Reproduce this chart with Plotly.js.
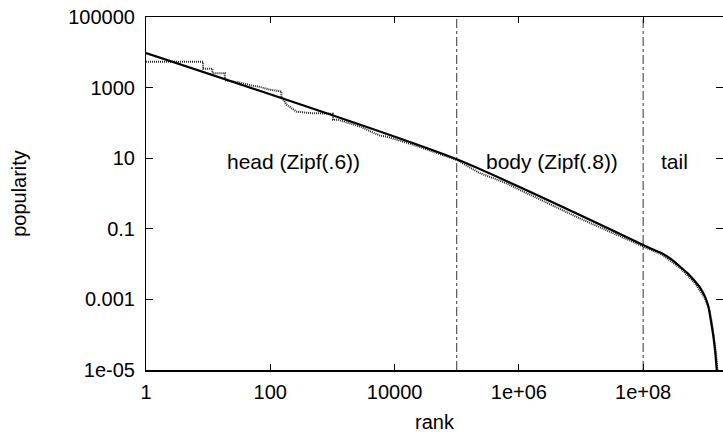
<!DOCTYPE html>
<html>
<head>
<meta charset="utf-8">
<script src="https://cdn.plot.ly/plotly-3.0.1.min.js"></script>
<style>html,body{margin:0;padding:0;background:#fff;}#chart{width:723px;height:437px;}</style>
</head>
<body>
<div id="chart"></div>
<script>
// Model fit (solid): Zipf(.6) head, Zipf(.8) body, tail cutoff
var modelRank = [1, 1e5, 1e8, 1.41e8, 2.0e8, 2.82e8, 3.98e8, 5.25e8, 6.76e8, 8.32e8, 9.77e8, 1.12e9, 1.23e9, 1.35e9, 1.445e9, 1.53e9];
var modelPop  = [9500, 9.3, 0.035, 0.0263, 0.0204, 0.0138, 0.0083, 0.00537, 0.00331, 0.00209, 0.00126, 0.00063, 0.00025, 0.000089, 0.000032, 0.00001];

// Measured popularity (dotted)
var dataRank = [1, 8.3, 8.3, 11.7, 11.7, 18.6, 18.6, 31.6, 50, 68, 98, 151, 151, 165, 182, 263, 427, 1023, 1023, 1230, 2750, 5750, 7400, 20000, 69000, 100000, 234000, 631000, 1e6, 1e7, 1e8, 2e8, 3.98e8, 6.76e8, 9.77e8, 1.15e9, 1.26e9, 1.38e9, 1.48e9, 1.57e9];
var dataPop  = [5400, 5400, 3400, 3400, 2570, 2570, 1600, 1400, 1150, 1050, 870, 780, 520, 440, 330, 209, 190, 182, 123, 123, 79, 44, 41, 24, 11.2, 8.9, 3.8, 1.95, 1.3, 0.19, 0.0316, 0.0186, 0.0076, 0.00295, 0.0011, 0.00056, 0.00025, 0.000089, 0.000032, 0.00001];

// Region boundaries and labels
var boundaryRanks = [1e5, 1e8];
var yLimits = [1e-5, 1e5];
var regionLabels = ["head (Zipf(.6))", "body (Zipf(.8))", "tail"];
var regionLabelX = [236, 3.4e6, 3.2e8];
var regionLabelY = 8;

var xTickVals = [1, 100, 10000, 1e6, 1e8];
var xTickText = ["1", "100", "10000", "1e+06", "1e+08"];
var yTickVals = [1e-5, 1e-3, 0.1, 10, 1000, 100000];
var yTickText = ["1e-05", "0.001", "0.1", "10", "1000", "100000"];

var font = "Liberation Sans, Arial, sans-serif";
var traces = [];
boundaryRanks.forEach(function (b) {
  traces.push({x: [b, b], y: yLimits, mode: "lines", showlegend: false, hoverinfo: "skip",
    line: {color: "#333", width: 1, dash: "dashdot"}});
});
traces.push({x: dataRank, y: dataPop, mode: "lines", showlegend: false,
  line: {color: "#222", width: 2, dash: "1px,1px"}});
traces.push({x: modelRank, y: modelPop, mode: "lines", showlegend: false,
  line: {color: "#000", width: 2.2, shape: "spline", smoothing: 0.6}});

var annotations = regionLabels.map(function (t, i) {
  return {x: Math.log10(regionLabelX[i]), y: Math.log10(regionLabelY), text: t, showarrow: false,
    xref: "x", yref: "y", xanchor: "center", yanchor: "middle",
    font: {family: font, size: 21, color: "#000"}};
});

var layout = {
  width: 723, height: 437,
  margin: {l: 146, r: 0, t: 17, b: 67},
  paper_bgcolor: "#fff", plot_bgcolor: "#fff",
  font: {family: font, size: 20, color: "#000"},
  xaxis: {type: "log", range: [0, 9.285], tickvals: xTickVals, ticktext: xTickText,
    ticks: "inside", ticklen: 6, tickwidth: 1, tickcolor: "#000", showgrid: false, zeroline: false,
    showline: true, linecolor: "#000", linewidth: 1.5, mirror: "ticks",
    tickfont: {family: font, size: 20}, ticklabelstandoff: 3,
    title: {text: "rank", font: {family: font, size: 20}, standoff: 13}},
  yaxis: {type: "log", range: [-5, 5], tickvals: yTickVals, ticktext: yTickText.map(function (s) { return s + "\u00a0"; }),
    ticks: "inside", ticklen: 7, tickwidth: 1, tickcolor: "#000", showgrid: false, zeroline: false,
    showline: true, linecolor: "#000", linewidth: 1.5, mirror: "ticks",
    tickfont: {family: font, size: 20},
    title: {text: "popularity", font: {family: font, size: 20}, standoff: 36}},
  annotations: annotations
};
Plotly.newPlot("chart", traces, layout, {staticPlot: true, displayModeBar: false});
</script>
</body>
</html>
